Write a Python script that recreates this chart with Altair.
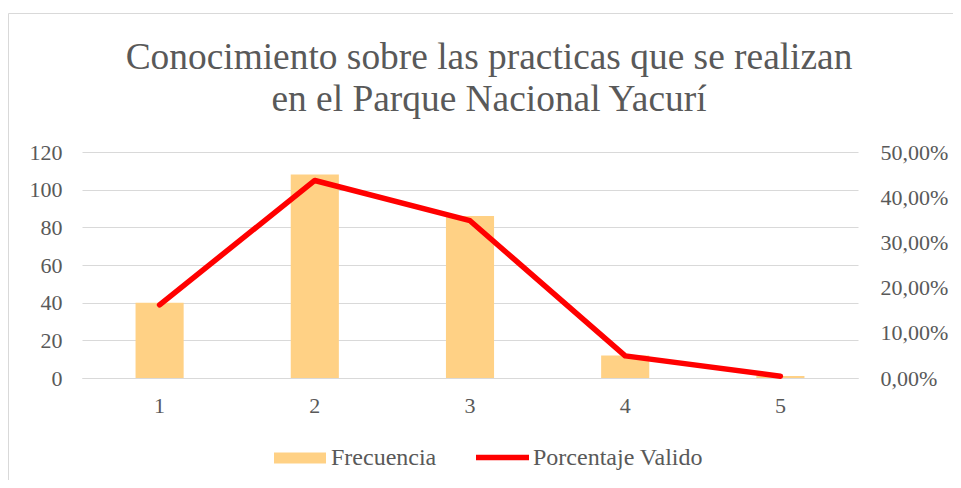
import altair as alt
import pandas as pd

categorias = ["1", "2", "3", "4", "5"]
frecuencia = [40, 108, 86, 12, 1]
porcentaje = [0.162, 0.437, 0.348, 0.049, 0.004]
titulo = ["Conocimiento sobre las practicas que se realizan", "en el Parque Nacional Yacurí"]

df = pd.DataFrame({"cat": categorias, "frec": frecuencia, "pct": porcentaje})

FONT = "Liberation Serif"
GRAY = "#595959"
GRID = "#D9D9D9"

base = alt.Chart(df)

xenc = alt.X("cat:N", sort=categorias, title=None,
             scale=alt.Scale(paddingInner=0.69, paddingOuter=0.345),
             axis=alt.Axis(labelAngle=0, ticks=False, domain=True, domainColor=GRID,
                           labelPadding=17, grid=False))

bars = base.transform_calculate(s="'Frecuencia'").mark_bar().encode(
    x=xenc,
    y=alt.Y("frec:Q", title=None,
            scale=alt.Scale(domain=[0, 120]),
            axis=alt.Axis(values=[0, 20, 40, 60, 80, 100, 120], ticks=False, domain=False,
                          grid=True, gridColor=GRID, labelPadding=20)),
    color=alt.Color("s:N", scale=alt.Scale(domain=["Frecuencia"], range=["#FFD185"]),
                    legend=alt.Legend(title=None, orient="none", legendX=192, legendY=280,
                                      symbolType="M-1,-0.21H1V0.21H-1Z", symbolSize=2704,
                                      symbolStrokeWidth=0, labelOffset=5, padding=0,
                                      labelLimit=400)),
)

line = base.transform_calculate(s2="'Porcentaje Valido'").mark_line(
    strokeWidth=5.5, strokeCap="round", strokeJoin="round").encode(
    x=alt.X("cat:N", sort=categorias),
    y=alt.Y("pct:Q", title=None,
            scale=alt.Scale(domain=[0, 0.5]),
            axis=alt.Axis(orient="right", values=[0, 0.1, 0.2, 0.3, 0.4, 0.5], ticks=False,
                          domain=False, grid=False, labelPadding=22,
                          labelExpr="replace(format(datum.value, '.2%'), '.', ',')")),
    stroke=alt.Stroke("s2:N", scale=alt.Scale(domain=["Porcentaje Valido"], range=["#FF0000"]),
                      legend=alt.Legend(title=None, orient="none", legendX=391, legendY=276,
                                        symbolType="stroke", symbolSize=2809,
                                        symbolStrokeWidth=5.5, labelOffset=1, padding=0,
                                        labelLimit=400)),
)

border = alt.Chart(alt.Data(values=[{}])).mark_rect(
    fill=None, stroke=GRID, strokeWidth=1, clip=False).encode(
    x=alt.value(-73.5), x2=alt.value(900), y=alt.value(-138.5), y2=alt.value(400))

chart = alt.layer(border, bars, line).resolve_scale(y="independent").properties(
    width=776, height=226,
    padding={"left": 74, "top": 144, "right": 95, "bottom": 102},
    autosize=alt.AutoSizeParams(type="none"),
    title=alt.TitleParams(text=titulo, font=FONT, fontSize=37.4, fontWeight="normal",
                          color=GRAY, lineHeight=42, anchor="middle", dx=19, offset=-105),
).configure_title(
    font=FONT, fontSize=37.4, fontWeight="normal", color=GRAY,
).configure_axis(
    labelFont=FONT, labelFontSize=22, labelColor=GRAY,
).configure_legend(
    labelFont=FONT, labelFontSize=24, labelColor=GRAY,
).configure_view(stroke=None)

chart.save("out.html", embed_options={"renderer": "svg", "actions": False})
